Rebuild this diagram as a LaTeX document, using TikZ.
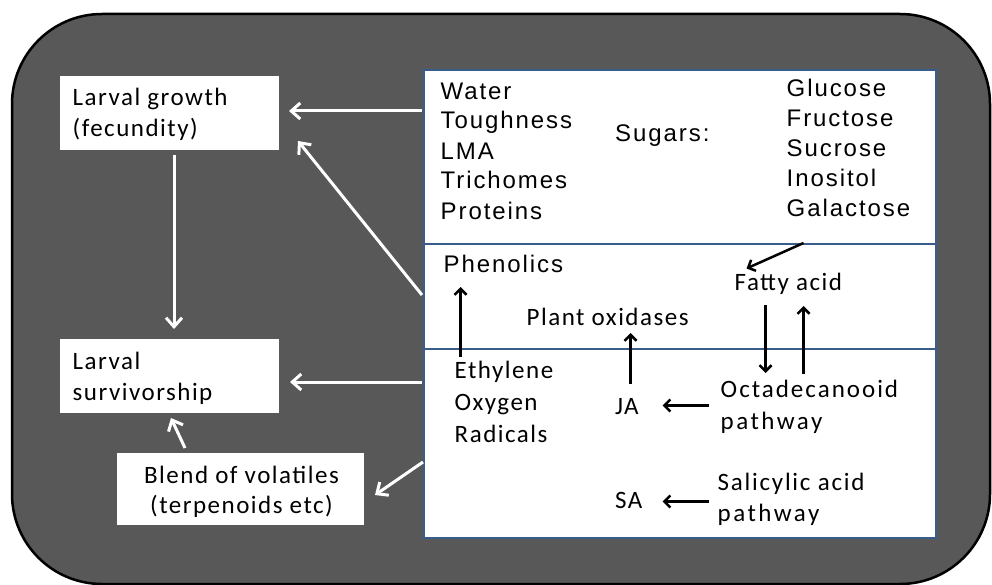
\documentclass[tikz,border=0pt]{standalone}
\usepackage{fontspec}
\setmainfont{Liberation Sans}
\newfontfamily\arialfont[LetterSpace=8]{Liberation Sans}
\newfontfamily\calfont[LetterSpace=6]{Carlito}
\newfontfamily\calfontB[LetterSpace=10]{Carlito}
\newfontfamily\calfontC[LetterSpace=7]{Carlito}
\newfontfamily\calfontD[LetterSpace=8]{Carlito}
\usetikzlibrary{arrows.meta}
\definecolor{bggray}{RGB}{88,88,88}
\definecolor{panelblue}{RGB}{56,93,138}
\begin{document}
\begin{tikzpicture}[x=1pt,y=-1pt,
  wbox/.style={draw=none, fill=white, inner sep=0pt, anchor=north west},
  panel/.style={draw=panelblue, line width=2pt, fill=white, inner sep=0pt, anchor=north west, minimum width=512pt},
  tA/.style={anchor=base west, inner sep=0pt, font=\arialfont\fontsize{24}{24}\selectfont},
  tC/.style={anchor=base west, inner sep=0pt, font=\calfont\fontsize{25}{25}\selectfont},
  warrow/.style={white, line width=3pt, -{Straight Barb[length=9pt,width=16pt]}},
  barrow/.style={black, line width=2.5pt, -{Straight Barb[length=6pt,width=12pt]}}]
\useasboundingbox (0,0) rectangle (992,585);
\fill[bggray, draw=black, line width=2.5pt, rounded corners=90pt] (12,14) rectangle (990,584);

% right panels
\node[panel, minimum height=174pt] (pA) at (423,69) {};
\node[panel, minimum height=105pt] (pB) at (423,243) {};
\node[panel, minimum height=189pt] (pC) at (423,348) {};

% left boxes
\node[wbox, minimum width=219pt, minimum height=74pt] (lg) at (60,76) {};
\node[wbox, minimum width=219pt, minimum height=74pt] (ls) at (60,339) {};
\node[wbox, minimum width=247pt, minimum height=72pt] (bv) at (117,453) {};

\node[tC] (lg1) at (72.5,106) {Larval growth};
\node[tC] (lg2) at (72.5,137) {(fecundity)};
\node[tC] (ls1) at (72.5,369) {Larval};
\node[tC] (ls2) at (72.5,400) {survivorship};
\node[tC, anchor=base] (bv1) at (241.5,483) {Blend of volatiles};
\node[tC, anchor=base] (bv2) at (241.5,513) {(terpenoids etc)};

% top panel text
\node[tA] (t1) at (440.5,100) {Water};
\node[tA] (t2) at (440.5,129) {Toughness};
\node[tA] (t3) at (440.5,159.5) {LMA};
\node[tA] (t4) at (440.5,189) {Trichomes};
\node[tA] (t5) at (440.5,219) {Proteins};
\node[tA] (sug) at (615,142) {Sugars:};
\node[tA] (s1) at (786.5,96.5) {Glucose};
\node[tA] (s2) at (786.5,126.5) {Fructose};
\node[tA] (s3) at (786.5,156.5) {Sucrose};
\node[tA] (s4) at (786.5,186.5) {Inositol};
\node[tA] (s5) at (786.5,216.5) {Galactose};

% middle panel text
\node[tA] (phen) at (443.5,272) {Phenolics};
\node[tC] (fa) at (734.5,290.5) {Fatty acid};
\node[tC] (pox) at (526.5,325) {Plant oxidases};

% bottom panel text
\node[tC] (eth) at (454.5,378.5) {Ethylene};
\node[tC] (oxy) at (454.5,410.5) {Oxygen};
\node[tC] (rad) at (454.5,442) {Radicals};
\node[tC] (ja) at (615,414) {JA};
\node[tC] (sa) at (615,508.5) {SA};
\node[tC, font=\calfontD\fontsize{25}{25}\selectfont] (oc1) at (720.5,397) {Octadecanooid};
\node[tC, font=\calfontB\fontsize{25}{25}\selectfont] (oc2) at (720.5,429) {pathway};
\node[tC, font=\calfontC\fontsize{25}{25}\selectfont] (sl1) at (717.5,490.5) {Salicylic acid};
\node[tC, font=\calfontB\fontsize{25}{25}\selectfont] (sl2) at (717.5,521.5) {pathway};

% connector end points
\coordinate (w1s) at (422,111); \coordinate (w1e) at (289,111);
\coordinate (w2s) at (422,295); \coordinate (w2e) at (298,141);
\coordinate (w3s) at (174,155); \coordinate (w3e) at (174,329);
\coordinate (w4s) at (422,382); \coordinate (w4e) at (290,382);
\coordinate (w5s) at (423,462); \coordinate (w5e) at (375,495);
\coordinate (w6s) at (185,448); \coordinate (w6e) at (171,418);

\coordinate (b1s) at (460.5,357); \coordinate (b1e) at (460.5,287);
\coordinate (b2s) at (630.5,384); \coordinate (b2e) at (630.5,333);
\coordinate (b3s) at (765.5,305); \coordinate (b3e) at (765.5,373);
\coordinate (b4s) at (803.5,374); \coordinate (b4e) at (803.5,306);
\coordinate (b5s) at (803.5,243); \coordinate (b5e) at (746.5,268.5);
\coordinate (b6s) at (708.5,405.5); \coordinate (b6e) at (662.5,405.5);
\coordinate (b7s) at (708.5,501.5); \coordinate (b7e) at (662.5,501.5);

\draw[warrow] (w1s) -- (w1e);
\draw[warrow] (w2s) -- (w2e);
\draw[warrow] (w3s) -- (w3e);
\draw[warrow] (w4s) -- (w4e);
\draw[warrow] (w5s) -- (w5e);
\draw[warrow] (w6s) -- (w6e);

\draw[barrow] (b1s) -- (b1e);
\draw[barrow] (b2s) -- (b2e);
\draw[barrow] (b3s) -- (b3e);
\draw[barrow] (b4s) -- (b4e);
\draw[barrow] (b5s) -- (b5e);
\draw[barrow] (b6s) -- (b6e);
\draw[barrow] (b7s) -- (b7e);
\end{tikzpicture}
\end{document}
